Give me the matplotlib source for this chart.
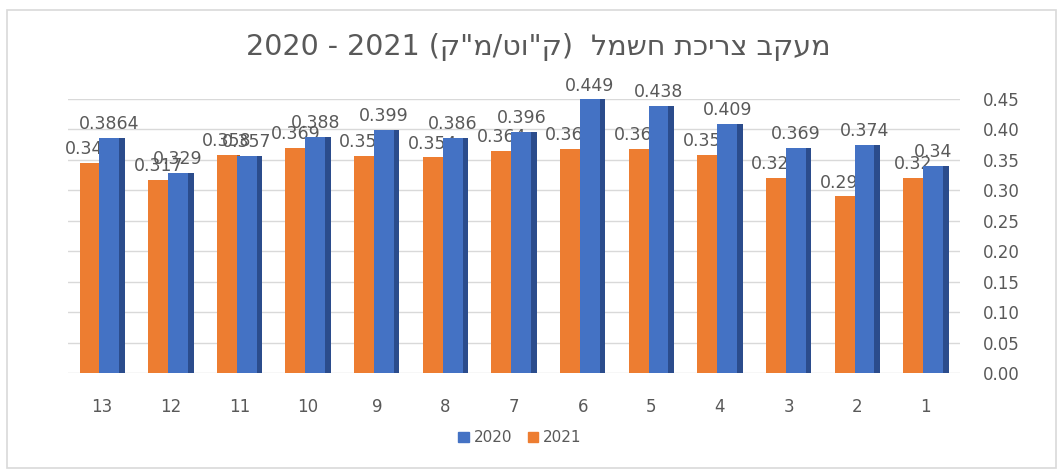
import numpy as np
import matplotlib.pyplot as plt
from matplotlib.patches import Rectangle, Patch

plt.rcParams['font.family'] = ['DejaVu Sans']

# קטגוריות (משמאל לימין כמו בתמונה)
categories = ['13', '12', '11', '10', '9', '8', '7', '6', '5', '4', '3', '2', '1']
vals_2020 = [0.3864, 0.329, 0.357, 0.388, 0.399, 0.386, 0.396, 0.449, 0.438, 0.409, 0.369, 0.374, 0.34]
vals_2021 = [0.345, 0.317, 0.358, 0.369, 0.357, 0.354, 0.364, 0.368, 0.368, 0.358, 0.320, 0.290, 0.32]
labels_2020 = ['0.3864', '0.329', '0.357', '0.388', '0.399', '0.386', '0.396', '0.449', '0.438', '0.409', '0.369', '0.374', '0.34']
labels_2021 = ['0.345', '0.317', '0.358', '0.369', '0.357', '0.354', '0.364', '0.368', '0.368', '0.358', '0.320', '0.290', '0.32']
yticks = [0.00, 0.05, 0.10, 0.15, 0.20, 0.25, 0.30, 0.35, 0.40, 0.45]

# כותרת בסדר חזותי (matplotlib לא מטפל בכיווניות)
title = '2020 - 2021 (ק"מ/טו"ק)  למשח תכירצ בקעמ'

blue = '#4472C4'
blue_side = '#2B4C8C'
orange = '#ED7D31'
orange_side = '#B85E1E'
grey = '#595959'

fig = plt.figure(figsize=(10.61, 4.73), dpi=100)
fig.patches.append(Rectangle((0.007, 0.011), 0.988, 0.967, transform=fig.transFigure,
                             fill=False, edgecolor='#D9D9D9', linewidth=1.2))
ax = fig.add_axes([0.064, 0.211, 0.841, 0.580])

x = np.arange(len(categories))
w = 0.29

# עמודות 2021
ax.bar(x - 0.185, vals_2021, w, color=orange, zorder=2)
ax.bar(x - 0.02, vals_2021, 0.04, color=orange_side, zorder=2)
for xi, v, s in zip(x, vals_2021, labels_2021):
    ax.text(xi - 0.185, v + 0.008, s, ha='center', va='bottom', fontsize=12.5, color=grey, zorder=3)

# עמודות 2020
ax.bar(x + 0.105, vals_2020, w, color=blue, zorder=4)
ax.bar(x + 0.29, vals_2020, 0.08, color=blue_side, zorder=4)
for xi, v, s in zip(x, vals_2020, labels_2020):
    ax.text(xi + 0.105, v + 0.008, s, ha='center', va='bottom', fontsize=12.5, color=grey, zorder=5)

ax.set_xlim(-0.5, len(categories) - 0.5)
ax.set_ylim(0, 0.45)
ax.set_xticks(x)
ax.set_xticklabels(categories)
ax.set_yticks(yticks)
ax.set_yticklabels([f'{t:.2f}' for t in yticks])
ax.yaxis.tick_right()
ax.tick_params(axis='y', length=0, pad=16, labelsize=12, labelcolor=grey)
ax.tick_params(axis='x', length=0, pad=18, labelsize=12, labelcolor=grey)
for sp in ax.spines.values():
    sp.set_visible(False)
ax.grid(axis='y', color='#D9D9D9', linewidth=1, zorder=0)
ax.set_axisbelow(True)

fig.text(0.507, 0.90, title, ha='center', va='center', fontsize=20.5, color=grey)

handles = [Patch(color=blue, label='2020'), Patch(color=orange, label='2021')]
fig.legend(handles=handles, loc='center', bbox_to_anchor=(0.49, 0.074), ncol=2,
           frameon=False, fontsize=11, labelcolor=grey, handlelength=0.7,
           handleheight=0.7, columnspacing=1.0, handletextpad=0.3)

fig.savefig('out.png', dpi=100)
